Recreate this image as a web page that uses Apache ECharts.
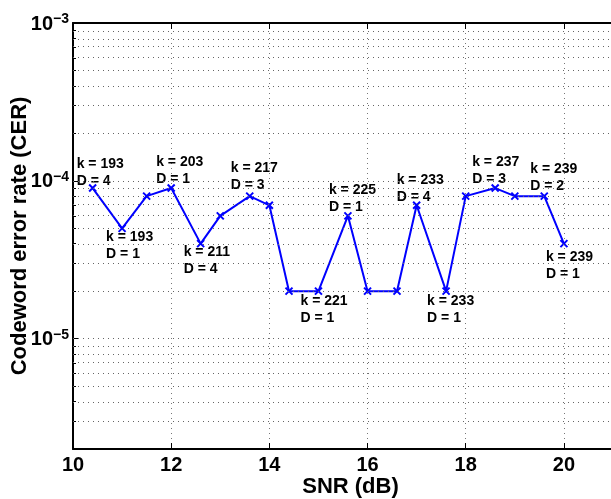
<!DOCTYPE html>
<html>
<head>
<meta charset="utf-8">
<script src="https://cdn.jsdelivr.net/npm/echarts@6/dist/echarts.min.js"></script>
<style>
  html, body { margin: 0; padding: 0; background: #fff; }
  #main { width: 611px; height: 499px; }
</style>
</head>
<body>
<div id="main"></div>
<script>
// SNR (dB) and codeword error rate
var snr = [10.4, 11, 11.5, 12, 12.6, 13, 13.6, 14, 14.4, 15, 15.6, 16, 16.6, 17, 17.6, 18, 18.6, 19, 19.6, 20];
var cer = [9e-5, 5e-5, 8e-5, 9e-5, 4e-5, 6e-5, 8e-5, 7e-5, 2e-5, 2e-5, 6e-5, 2e-5, 2e-5, 7e-5, 2e-5, 8e-5, 9e-5, 8e-5, 8e-5, 4e-5];

// annotations: which point, k and D
var annotIdx = [0, 1, 3, 4, 6, 9, 10, 13, 14, 16, 18, 19];
var annotK = [193, 193, 203, 211, 217, 221, 225, 233, 233, 237, 239, 239];
var annotD = [4, 1, 1, 4, 3, 1, 1, 4, 1, 3, 2, 1];

// axis ticks
var xTicks = [10, 12, 14, 16, 18, 20];
var yDecades = [-5, -4, -3];
var yMinorMult = [2, 3, 4, 5, 6, 7, 8, 9];
var yMin = Math.log10(2e-6), yMax = -3;

// label placement (px, relative to the point)
var labelOffsets = [[-16, -32], [-16, 0], [-15, -34], [-17, 0], [-19, -36], [-18, 1],
                    [-19, -34], [-20, -34], [-19, 1], [-23, -34], [-14, -35], [-18, 5]];

var FONT = 'Liberation Sans, Arial, sans-serif';

var chart = echarts.init(document.getElementById('main'));

// grid lines (log space)
var yGrid = [], yMinorTicks = [];
[-6, -5, -4].forEach(function (e) {
    [1].concat(yMinorMult).forEach(function (m) {
        var v = Math.log10(m) + e;
        if (v > yMin + 1e-6 && v < yMax - 1e-6) {
            yGrid.push({yAxis: v});
            if (m !== 1) yMinorTicks.push(v);
        }
    });
});

var lineData = snr.map(function (x, i) {
    var item = {value: [x, Math.log10(cer[i])]};
    var j = annotIdx.indexOf(i);
    if (j >= 0) {
        item.label = {
            show: true,
            position: 'inside',
            align: 'left',
            verticalAlign: 'top',
            offset: labelOffsets[j],
            formatter: 'k = ' + annotK[j] + '\nD = ' + annotD[j]
        };
    }
    return item;
});

var option = {
    animation: false,
    backgroundColor: '#fff',
    grid: {left: 73, top: 23, width: 540, height: 426, outerBoundsMode: 'none', containLabel: false},
    xAxis: [{
        type: 'value',
        min: 10,
        max: 21,
        interval: 2,
        name: 'SNR (dB)',
        nameLocation: 'middle',
        nameGap: 27,
        nameMoveOverlap: false,
        nameTextStyle: {fontFamily: FONT, fontWeight: 'bold', fontSize: 22, color: '#000', padding: [0, 0, 0, 15]},
        axisLine: {show: true, lineStyle: {color: '#000', width: 2}},
        axisTick: {show: true, inside: true, length: 6, customValues: xTicks, lineStyle: {color: '#000'}},
        axisLabel: {customValues: xTicks, fontFamily: FONT, fontWeight: 'bold', fontSize: 20, color: '#000', margin: 6},
        splitLine: {show: true, lineStyle: {color: '#777', type: [1, 4], width: 1}}
    }, {
        type: 'value',
        position: 'top',
        min: 10,
        max: 21,
        axisLine: {show: true, onZero: false, lineStyle: {color: '#000', width: 2}},
        axisTick: {show: true, inside: true, length: 6, customValues: xTicks, lineStyle: {color: '#000'}},
        axisLabel: {show: false},
        splitLine: {show: false}
    }],
    yAxis: [{
        type: 'value',
        min: yMin,
        max: yMax,
        name: 'Codeword error rate (CER)',
        nameLocation: 'middle',
        nameGap: 42,
        nameMoveOverlap: false,
        nameTextStyle: {fontFamily: FONT, fontWeight: 'bold', fontSize: 22, color: '#000'},
        axisLine: {show: true, lineStyle: {color: '#000', width: 2}},
        axisTick: {show: true, inside: true, length: 6, customValues: yDecades, lineStyle: {color: '#000'}},
        axisLabel: {
            customValues: yDecades,
            margin: 4,
            formatter: function (v) {
                return '{b|10}{s|\u2212' + Math.abs(Math.round(v)) + '}';
            },
            rich: {
                b: {fontFamily: FONT, fontWeight: 'bold', fontSize: 20, lineHeight: 22, color: '#000', verticalAlign: 'bottom', padding: [4, 0, 0, 0]},
                s: {fontFamily: FONT, fontWeight: 'bold', fontSize: 14, lineHeight: 13, color: '#000', verticalAlign: 'top'}
            }
        },
        splitLine: {show: false}
    }, {
        type: 'value',
        min: yMin,
        max: yMax,
        position: 'left',
        axisLine: {show: false},
        axisTick: {show: true, inside: true, length: 3, customValues: yMinorTicks, lineStyle: {color: '#000'}},
        axisLabel: {show: false},
        splitLine: {show: false}
    }],
    series: [{
        type: 'line',
        data: lineData,
        symbol: 'path://M0,0L10,10M10,0L0,10',
        symbolSize: 7,
        showAllSymbol: true,
        itemStyle: {color: 'rgba(0,0,0,0)', borderColor: '#0000ff', borderWidth: 2},
        lineStyle: {color: '#0000ff', width: 2},
        label: {show: false, color: '#000', fontFamily: FONT, fontWeight: 'bold', fontSize: 14, lineHeight: 17},
        markLine: {
            silent: true,
            symbol: ['none', 'none'],
            label: {show: false},
            lineStyle: {color: '#666', type: [1, 4], width: 1},
            data: yGrid
        },
        z: 3
    }]
};

chart.setOption(option);
window.addEventListener('resize', function () {
    chart.resize();
});
</script>
</body>
</html>
